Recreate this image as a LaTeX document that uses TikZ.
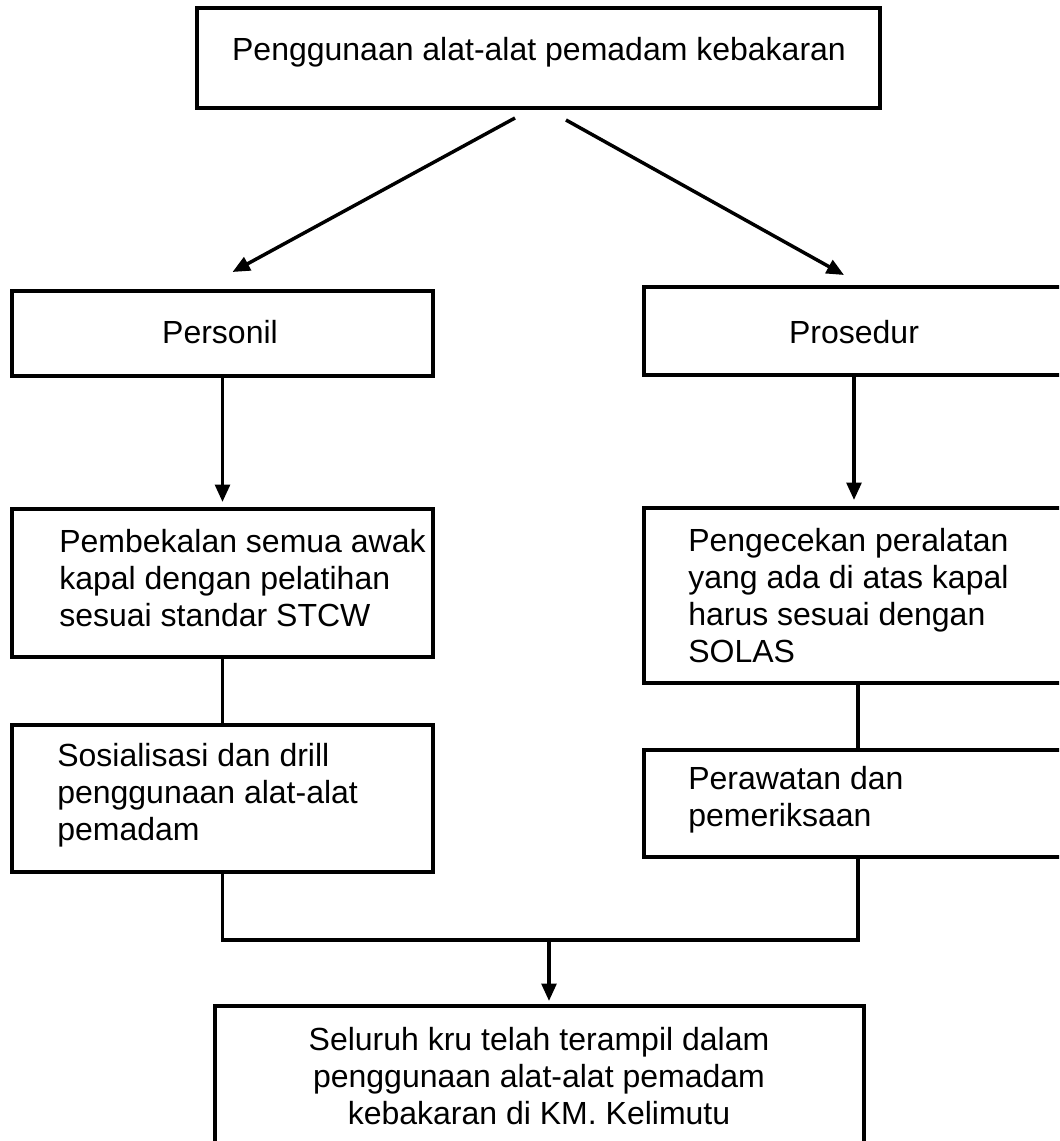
\documentclass[tikz,border=0pt]{standalone}
\usepackage{fontspec}
\setmainfont{Liberation Sans}
\usetikzlibrary{arrows.meta,calc}
\begin{document}
\begin{tikzpicture}[x=0.75pt,y=-0.75pt,
  box/.style={draw, line width=2.9pt, inner sep=0pt, outer sep=0pt},
  txt/.style={inner sep=0pt, font=\fontsize{24pt}{27.75pt}\selectfont},
  conn/.style={line width=2.6pt},
  arr/.style={line width=2.6pt, -{Triangle[length=13pt,width=11pt]}}]
\useasboundingbox (0,0) rectangle (1059,1141);
\clip (0,0) rectangle (1059,1141);
% boxes
\node[box, minimum width=512.25pt, minimum height=75pt] (top) at (538.5,58) {};
\node[box, minimum width=315.75pt, minimum height=63.75pt] (pers) at (222.5,333.5) {};
\node[box, minimum width=334.5pt, minimum height=66pt] (pros) at (867,331) {};
\node[box, minimum width=315.75pt, minimum height=111pt] (pemb) at (222.5,583) {};
\node[box, minimum width=334.5pt, minimum height=131.25pt] (peng) at (867,595.5) {};
\node[box, minimum width=315.75pt, minimum height=110.25pt] (sos) at (222.5,798.5) {};
\node[box, minimum width=334.5pt, minimum height=80.25pt] (peraw) at (867,803.5) {};
\node[box, minimum width=486.75pt, minimum height=115.5pt] (fin) at (539.5,1083) {};
% texts
\node[txt] (ttop) at (539,52) {Penggunaan alat-alat pemadam kebakaran};
\node[txt] (tpers) at (220,332) {Personil};
\node[txt] (tpros) at (854,332) {Prosedur};
\node[txt, anchor=west, align=left] (tpemb) at (59,578) {Pembekalan semua awak\\kapal dengan pelatihan\\sesuai standar STCW};
\node[txt, anchor=west, align=left] (tpeng) at (688,596) {Pengecekan peralatan\\yang ada di atas kapal\\harus sesuai dengan\\SOLAS};
\node[txt, anchor=west, align=left] (tsos) at (57,795) {Sosialisasi dan drill\\penggunaan alat-alat\\pemadam};
\node[txt, anchor=west, align=left] (tperaw) at (688,800) {Perawatan dan\\pemeriksaan};
\node[txt, align=center] (tfin) at (539,1076) {Seluruh kru telah terampil dalam\\penggunaan alat-alat pemadam\\kebakaran di KM. Kelimutu};
% connectors
\draw[arr] ($(top.south)+(-23.5,10)$) -- ($(pers.north)+(10,-19)$);
\draw[arr] ($(top.south)+(27.5,12)$) -- ($(pros.north west)+(200,-12)$);
\draw[arr] (pers.south) -- ($(pemb.north)+(0,-7)$);
\draw[arr] ($(pros.south west)+(210,0)$) -- ($(peng.north west)+(210,-8)$);
\draw[conn] (pemb.south) -- (sos.north);
\draw[conn] ($(peng.south west)+(214,0)$) -- ($(peraw.north west)+(214,0)$);
\draw[conn] (sos.south) -- ++(0,68) -| ($(peraw.south west)+(214,0)$);
\draw[arr] ($(fin.north west)+(334,-66)$) -- ($(fin.north west)+(334,-5)$);
\end{tikzpicture}
\end{document}
